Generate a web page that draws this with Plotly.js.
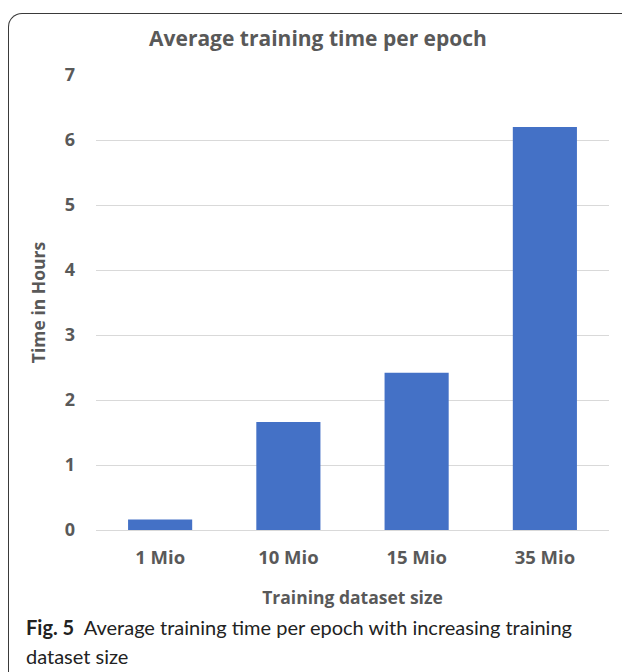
<!DOCTYPE html>
<html>
<head>
<meta charset="utf-8">
<script src="https://cdn.plot.ly/plotly-3.0.1.min.js"></script>
<style>
  html, body { margin: 0; padding: 0; background: #fff; }
  #wrap { position: relative; width: 622px; height: 672px; overflow: hidden; }
  #chart { position: absolute; left: 0; top: 0; width: 622px; height: 672px; }
  #frame { position: absolute; left: 8px; top: 13px; width: 640px; height: 700px;
           border-left: 1.5px solid #3a3a3a; border-top: 1.5px solid #3a3a3a;
           border-top-left-radius: 14px; pointer-events: none; }
</style>
</head>
<body>
<div id="wrap">
  <div id="chart"></div>
  <div id="frame"></div>
</div>
<script>
const categories = ["1 Mio", "10 Mio", "15 Mio", "35 Mio"];
const hours = [0.16, 1.66, 2.42, 6.2];
const chartTitle = "Average training time per epoch";
const xTitle = "Training dataset size";
const yTitle = "Time in Hours";
const captionBold = "Fig. 5";
const captionLine1 = "Average training time per epoch with increasing training";
const captionLine2 = "dataset size";

const gray = "#595959";
const fontFam = "Open Sans, sans-serif";
const capFam = "Lato, sans-serif";

const trace = {
  type: "bar",
  x: categories,
  y: hours,
  width: 0.5,
  marker: { color: "#4471c6", line: { width: 0 } },
  hoverinfo: "x+y"
};

const plotLeft = 96, plotRight = 609, plotTop = 75, plotBottom = 530;
const pw = plotRight - plotLeft, ph = plotBottom - plotTop;
function px2x(p) { return (p - plotLeft) / pw; }
function py2y(p) { return (plotBottom - p) / ph; }

const layout = {
  width: 622,
  height: 672,
  margin: { l: plotLeft, r: 622 - plotRight, t: plotTop, b: 672 - plotBottom, pad: 0 },
  paper_bgcolor: "#ffffff",
  plot_bgcolor: "#ffffff",
  showlegend: false,
  font: { family: fontFam, color: gray },
  title: {
    text: chartTitle,
    font: { family: fontFam, size: 21, weight: "bold", color: gray },
    x: 318 / 622, xanchor: "center", xref: "container",
    y: 1 - 39 / 672, yanchor: "middle", yref: "container"
  },
  xaxis: {
    type: "category",
    showgrid: false,
    showline: false,
    zeroline: false,
    ticks: "",
    tickfont: { family: fontFam, size: 18.5, weight: "bold", color: gray },
    ticklabelstandoff: 14,
    title: { text: xTitle, font: { family: fontFam, size: 17.5, weight: "bold", color: gray }, standoff: 24 },
    automargin: false
  },
  yaxis: {
    range: [0, 7],
    dtick: 1,
    showgrid: true,
    gridcolor: "#d9d9d9",
    gridwidth: 1,
    zeroline: true,
    zerolinecolor: "#d9d9d9",
    zerolinewidth: 1,
    showline: false,
    ticks: "",
    tickfont: { family: fontFam, size: 18, weight: "bold", color: gray },
    ticklabelstandoff: 20,
    title: { text: yTitle, font: { family: fontFam, size: 17.5, weight: "bold", color: gray }, standoff: 14 },
    automargin: false
  },
  annotations: [
    {
      xref: "paper", yref: "paper",
      x: px2x(24), y: py2y(627),
      xanchor: "left", yanchor: "middle",
      showarrow: false, align: "left",
      text: "<b>" + captionBold + "</b>  " + captionLine1,
      font: { family: capFam, size: 20, color: "#222222" }
    },
    {
      xref: "paper", yref: "paper",
      x: px2x(24), y: py2y(656),
      xanchor: "left", yanchor: "middle",
      showarrow: false, align: "left",
      text: captionLine2,
      font: { family: capFam, size: 20, color: "#222222" }
    }
  ]
};

Plotly.newPlot("chart", [trace], layout, { displayModeBar: false, staticPlot: true });
</script>
</body>
</html>
